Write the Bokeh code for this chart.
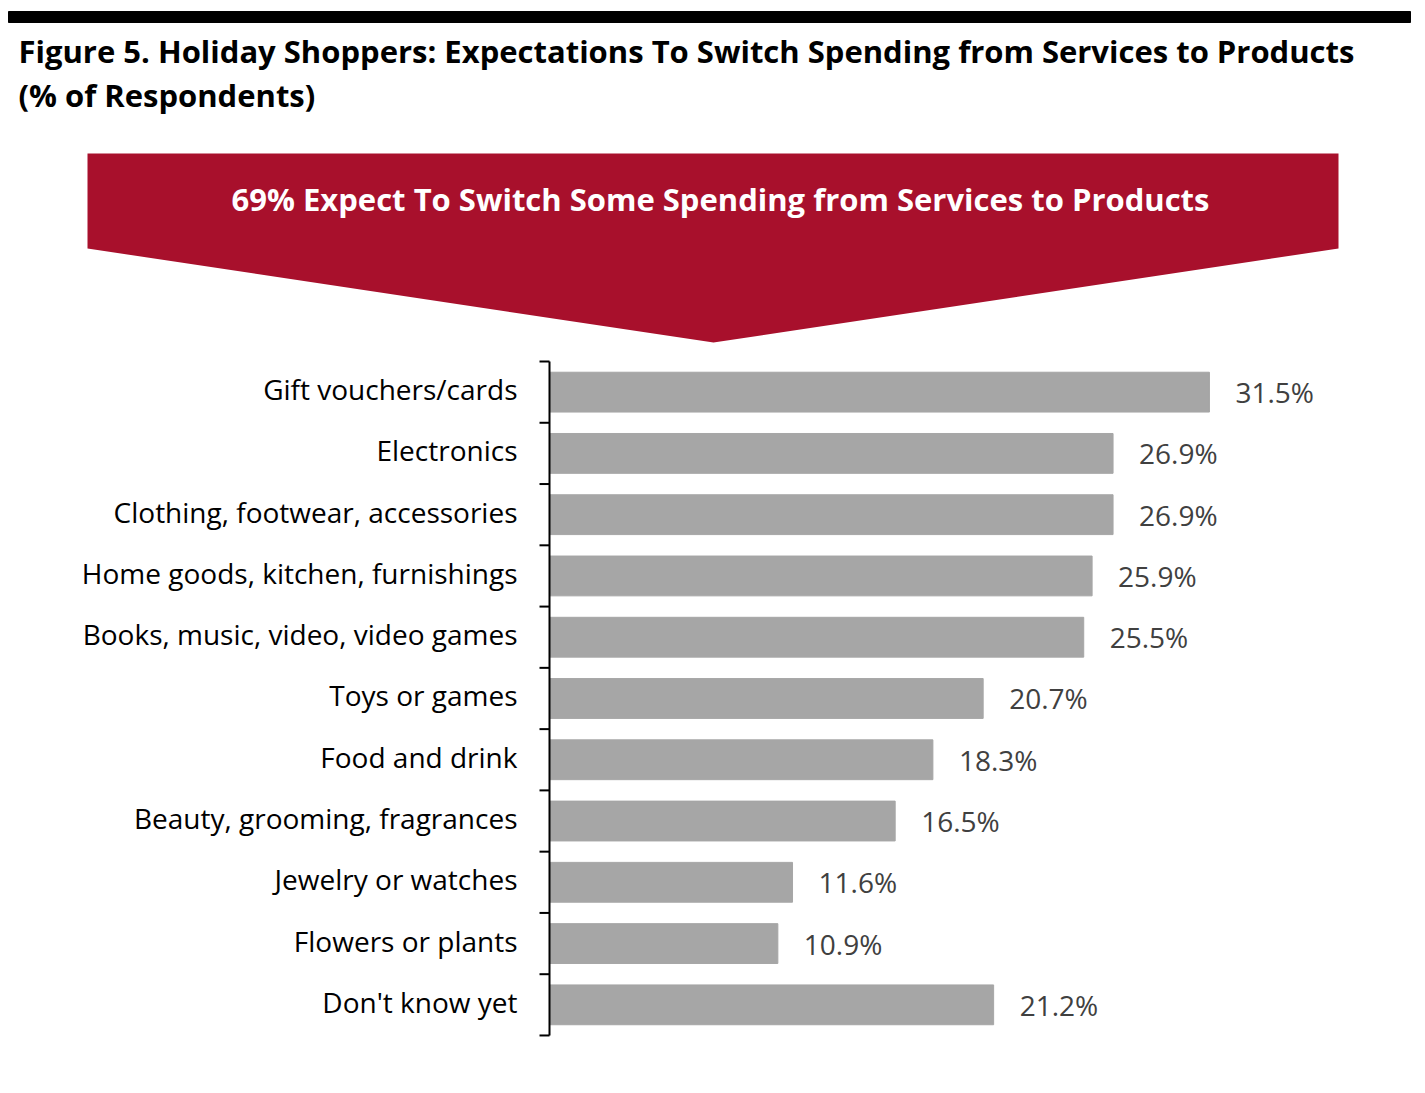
import math
from bokeh.plotting import figure
from bokeh.models import Range1d, ColumnDataSource
from bokeh.core.properties import value
from bokeh.embed import file_html
from bokeh.resources import INLINE

# ---- data ----
categories = [
    "Gift vouchers/cards",
    "Electronics",
    "Clothing, footwear, accessories",
    "Home goods, kitchen, furnishings",
    "Books, music, video, video games",
    "Toys or games",
    "Food and drink",
    "Beauty, grooming, fragrances",
    "Jewelry or watches",
    "Flowers or plants",
    "Don't know yet",
]
values = [31.5, 26.9, 26.9, 25.9, 25.5, 20.7, 18.3, 16.5, 11.6, 10.9, 21.2]
title_lines = [
    "Figure 5. Holiday Shoppers: Expectations To Switch Spending from Services to Products",
    "(% of Respondents)",
]
banner_text = "69% Expect To Switch Some Spending from Services to Products"

# ---- styles / layout ----
FONT = "Open Sans"
RED = "#A8102C"
BAR = "#A6A6A6"
W, H = 1420, 1085
PX_PER_PCT = 20.95
ZERO_X = 549          # px from canvas left where 0% sits
ROW = 61.27           # px per category row
TOP_Y = 361           # px from canvas top where first row starts

n = len(categories)
x_start = -ZERO_X / PX_PER_PCT
x_end = (W - ZERO_X) / PX_PER_PCT
y_top = -TOP_Y / ROW
y_bot = (H - TOP_Y) / ROW

p = figure(width=W, height=H, x_range=Range1d(x_start, x_end), y_range=Range1d(y_bot, y_top),
           output_backend="svg", toolbar_location=None,
           x_axis_location=None, y_axis_location=None,
           min_border=0, outline_line_color=None)
p.grid.visible = False
p.extra_x_ranges = {"px": Range1d(0, W)}
p.extra_y_ranges = {"py": Range1d(H, 0)}

# ---- header ----
hx = dict(x_range_name="px", y_range_name="py")
p.quad(left=[8], right=[1410], top=[11], bottom=[22], color="black", **hx)
p.text(x=[18, 18], y=[50.5, 94], text=title_lines, text_font=value(FONT),
       text_font_size="31px", text_font_style="bold", text_baseline="middle",
       text_color="black", **hx)
p.patch(x=[87, 1338, 1338, 713, 87], y=[153, 153, 248, 342, 248],
        fill_color=RED, line_color=None, **hx)
p.text(x=[720], y=[198], text=[banner_text], text_font=value(FONT),
       text_font_size="31px", text_font_style="bold", text_baseline="middle",
       text_align="center", text_color="white", **hx)

# ---- chart ----
centers = [i + 0.5 for i in range(n)]
src = ColumnDataSource(dict(y=centers, v=values, cat=categories,
                            lab=[f"{v:.1f}%" for v in values]))
p.hbar(y="y", left=0, right="v", height=0.65, source=src, color=BAR)
p.text(x="v", y="y", text="lab", source=src, x_offset=26, y_offset=0,
       text_baseline="middle", text_font=value(FONT), text_font_size="28px",
       text_color="#404040")

# category axis: line, boundary ticks, labels
p.segment(x0=[0], y0=[0], x1=[0], y1=[n], line_color="black", line_width=2)
p.ray(x=[0] * (n + 1), y=list(range(n + 1)), length=10, length_units="screen",
      angle=math.pi, line_color="black", line_width=2)
p.text(x=0, y="y", text="cat", source=src, x_offset=-32, y_offset=-3,
       text_align="right", text_baseline="middle", text_font=value(FONT),
       text_font_size="28px", text_color="black")

open("out.html", "w").write(file_html(p, INLINE))
